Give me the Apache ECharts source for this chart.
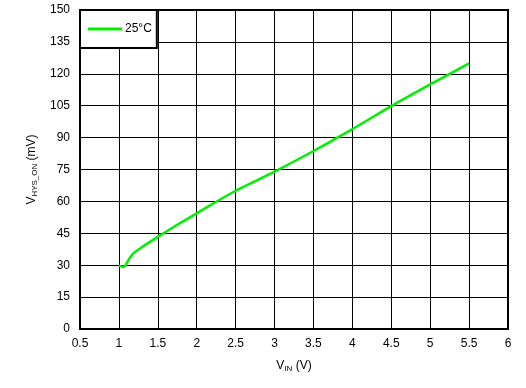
<!DOCTYPE html>
<html><head><meta charset="utf-8">
<script src="https://cdn.jsdelivr.net/npm/echarts@6/dist/echarts.min.js"></script>
<style>html,body{margin:0;padding:0;background:#fff}#c{width:526px;height:388px}</style>
</head><body><div id="c"></div>
<script>
const vin = [1.0, 1.05, 1.08, 1.1, 1.15, 1.2, 1.3, 1.5, 1.75, 2.0, 2.5, 3.0, 3.5, 4.0, 4.5, 5.0, 5.5];
const vhys = [29.8, 29.3, 29.6, 31.0, 34.0, 36.0, 38.6, 43.3, 49.0, 54.4, 65.0, 74.0, 83.7, 94.0, 104.8, 115.0, 124.9];
const seriesName = '25°C';

const chart = echarts.init(document.getElementById('c'));
const font = 'Liberation Sans, Arial, sans-serif';
const green = '#00f000';
chart.setOption({
  animation: false,
  textStyle: {fontFamily: font},
  grid: {left: 80, right: 18, top: 10, bottom: 59, show: true, borderColor: '#000', borderWidth: 2, backgroundColor: 'transparent'},
  legend: {
    left: 80, top: 10, orient: 'vertical',
    backgroundColor: '#fff', borderColor: '#000', borderWidth: 2, borderRadius: 0,
    padding: [13, 5, 13, 8],
    icon: 'rect', itemWidth: 34, itemHeight: 3, itemGap: 4,
    textStyle: {fontSize: 12, color: '#000', fontFamily: font, padding: [0, 0, 0, -2], lineHeight: 12},
    data: [seriesName]
  },
  xAxis: {
    type: 'value', min: 0.5, max: 6, interval: 0.5,
    name: '{m|V}{s|IN}{m| (V)}', nameLocation: 'middle', nameGap: 30,
    nameTextStyle: {rich: {m: {fontSize: 12, color: '#000', fontFamily: font}, s: {fontSize: 8, color: '#000', fontFamily: font, verticalAlign: 'bottom', padding: [6, 0, 0, 0]}}},
    axisLine: {lineStyle: {color: '#000', width: 2}},
    axisTick: {show: false},
    axisLabel: {color: '#000', fontSize: 12, margin: 9, fontFamily: font},
    splitLine: {show: true, lineStyle: {color: '#000', width: 1}}
  },
  yAxis: {
    type: 'value', min: 0, max: 150, interval: 15,
    name: '{m|V}{s|HYS_ON}{m| (mV)}', nameLocation: 'middle', nameGap: 40,
    nameTextStyle: {rich: {m: {fontSize: 12, color: '#000', fontFamily: font}, s: {fontSize: 8, color: '#000', fontFamily: font, verticalAlign: 'bottom', padding: [6, 0, 0, 0]}}},
    axisLine: {show: true, lineStyle: {color: '#000', width: 2}},
    axisTick: {show: false},
    axisLabel: {color: '#000', fontSize: 12, margin: 10, fontFamily: font},
    splitLine: {show: true, lineStyle: {color: '#000', width: 1}}
  },
  series: [{
    name: seriesName, type: 'line', smooth: 0.3, symbol: 'none',
    lineStyle: {color: green, width: 2.5}, itemStyle: {color: green},
    data: vin.map((x, i) => [x, vhys[i]])
  }]
});
</script></body></html>
